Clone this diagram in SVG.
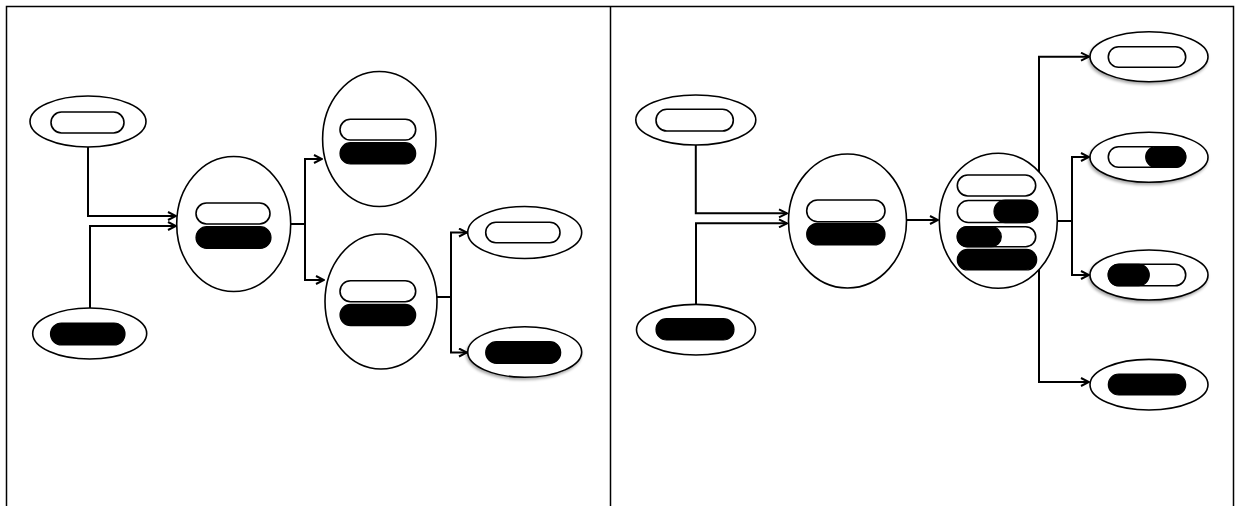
<svg xmlns="http://www.w3.org/2000/svg" width="1239" height="506" viewBox="0 0 1239 506">
<defs>
<style>
.frame{fill:none;stroke:#000;stroke-width:1.5}
.node{fill:#fff;stroke:#000;stroke-width:1.6}
.pw{fill:#fff;stroke:#000;stroke-width:1.6}
.pb{fill:#000;stroke:#000;stroke-width:1.2}
.con{fill:none;stroke:#000;stroke-width:2}
.arr{marker-end:url(#ah)}
</style>
<marker id="ah" viewBox="0 0 10 10" refX="9" refY="5" markerWidth="10" markerHeight="10" markerUnits="userSpaceOnUse" orient="auto">
<path d="M1,1 L9,5 L1,9" fill="none" stroke="#000" stroke-width="2"/>
</marker>
<filter id="sh" x="-20%" y="-20%" width="140%" height="150%">
<feGaussianBlur in="SourceAlpha" stdDeviation="1.5"/>
<feOffset dx="-1" dy="2" result="b"/>
<feComponentTransfer><feFuncA type="linear" slope="0.35"/></feComponentTransfer>
<feMerge><feMergeNode/><feMergeNode in="SourceGraphic"/></feMerge>
</filter>
</defs>
<rect width="1239" height="506" fill="#fff"/>
<g id="frame">
<path class="frame" d="M6.5,506 V6.5 H1233.5 V506"/>
<path class="frame" d="M610.5,6.5 V506"/>
</g>
<g id="connectors">
<path class="con arr" d="M88,147 V216 H176"/>
<path class="con arr" d="M90,308 V226 H176"/>
<path class="con" d="M290.7,224 H305"/>
<path class="con arr" d="M305,224 V159 H322"/>
<path class="con arr" d="M305,224 V280 H324"/>
<path class="con" d="M436.7,297 H451"/>
<path class="con arr" d="M451,297 V232.5 H467"/>
<path class="con arr" d="M451,297 V352.5 H467"/>
<path class="con arr" d="M695.8,145 V213.3 H787"/>
<path class="con arr" d="M696,304 V223.3 H787"/>
<path class="con arr" d="M906.7,220 H938"/>
<path class="con arr" d="M1039,220 V56.7 H1089"/>
<path class="con arr" d="M1039,220 V382 H1089"/>
<path class="con" d="M1057.3,221 H1072"/>
<path class="con arr" d="M1072,221 V157 H1089"/>
<path class="con arr" d="M1072,221 V275 H1089"/>
</g>
<g id="L-top">
<ellipse class="node" cx="88" cy="121.5" rx="58" ry="25.5"/>
<rect class="pw" x="51" y="112" width="73" height="21" rx="10.5"/>
</g>
<g id="L-bottom">
<ellipse class="node" cx="89.7" cy="333.5" rx="57" ry="25.5"/>
<rect class="pb" x="50.5" y="323" width="74.5" height="22" rx="11"/>
</g>
<g id="L-mid">
<ellipse class="node" cx="233.7" cy="224" rx="57" ry="67.5"/>
<rect class="pw" x="196" y="203" width="74" height="21" rx="10.5"/>
<rect class="pb" x="196" y="226.7" width="75" height="21.6" rx="10.8"/>
</g>
<g id="L-upper">
<ellipse class="node" cx="379.3" cy="139" rx="56.7" ry="67.5"/>
<rect class="pw" x="340" y="119.3" width="75.7" height="20.7" rx="10.3"/>
<rect class="pb" x="340" y="142.7" width="75.7" height="21.3" rx="10.6"/>
</g>
<g id="L-lower">
<ellipse class="node" cx="381" cy="301.5" rx="56" ry="67.5"/>
<rect class="pw" x="340" y="280.7" width="75.7" height="21" rx="10.5"/>
<rect class="pb" x="340" y="304.3" width="75.7" height="21.4" rx="10.7"/>
</g>
<g id="L-out-white">
<ellipse class="node" cx="524.7" cy="232.5" rx="57" ry="26"/>
<rect class="pw" x="485.7" y="222.3" width="74.3" height="20.4" rx="10.2"/>
</g>
<g id="L-out-black" filter="url(#sh)">
<ellipse class="node" cx="524.7" cy="352" rx="57" ry="25.3"/>
<rect class="pb" x="485.7" y="341.7" width="75" height="21.6" rx="10.8"/>
</g>
<g id="R-top">
<ellipse class="node" cx="695.8" cy="120" rx="60" ry="25"/>
<rect class="pw" x="656" y="109.3" width="77.3" height="21.7" rx="10.8"/>
</g>
<g id="R-bottom">
<ellipse class="node" cx="696" cy="329.7" rx="59.5" ry="25.3"/>
<rect class="pb" x="656" y="318.7" width="78" height="21.3" rx="10.6"/>
</g>
<g id="R-mid">
<ellipse class="node" cx="847.5" cy="221" rx="59" ry="67"/>
<rect class="pw" x="806.7" y="200" width="78.3" height="21.7" rx="10.8"/>
<rect class="pb" x="806.7" y="223.3" width="78.3" height="21.7" rx="10.8"/>
</g>
<g id="R-mix">
<ellipse class="node" cx="998.3" cy="220.8" rx="59" ry="67.5"/>
<rect class="pw" x="957.3" y="175" width="78.4" height="21" rx="10.5"/>
<rect class="pw" x="957.3" y="200.5" width="80" height="22" rx="11"/>
<rect class="pb" x="994" y="200" width="44" height="22.7" rx="11.3"/>
<rect class="pw" x="957.3" y="226.7" width="78.4" height="20" rx="10"/>
<rect class="pb" x="957.3" y="226.7" width="44" height="20" rx="10"/>
<rect class="pb" x="957.3" y="249.3" width="79.4" height="20.7" rx="10.3"/>
</g>
<g id="R-out1" filter="url(#sh)">
<ellipse class="node" cx="1149" cy="56.7" rx="59" ry="25"/>
<rect class="pw" x="1108.3" y="46.7" width="77.4" height="20.6" rx="10.3"/>
</g>
<g id="R-out2" filter="url(#sh)">
<ellipse class="node" cx="1149" cy="157.3" rx="59" ry="25"/>
<rect class="pw" x="1108.3" y="146.7" width="77.4" height="20.6" rx="10.3"/>
<rect class="pb" x="1145.7" y="146.7" width="40" height="20.6" rx="10.3"/>
</g>
<g id="R-out3" filter="url(#sh)">
<ellipse class="node" cx="1149" cy="275" rx="59" ry="25"/>
<rect class="pw" x="1108.3" y="264.3" width="77.4" height="21.4" rx="10.7"/>
<rect class="pb" x="1108.3" y="264.3" width="41" height="21.4" rx="10.7"/>
</g>
<g id="R-out4">
<ellipse class="node" cx="1149" cy="384.7" rx="59" ry="25.3"/>
<rect class="pb" x="1108.3" y="374" width="77.4" height="21" rx="10.5"/>
</g>
</svg>
